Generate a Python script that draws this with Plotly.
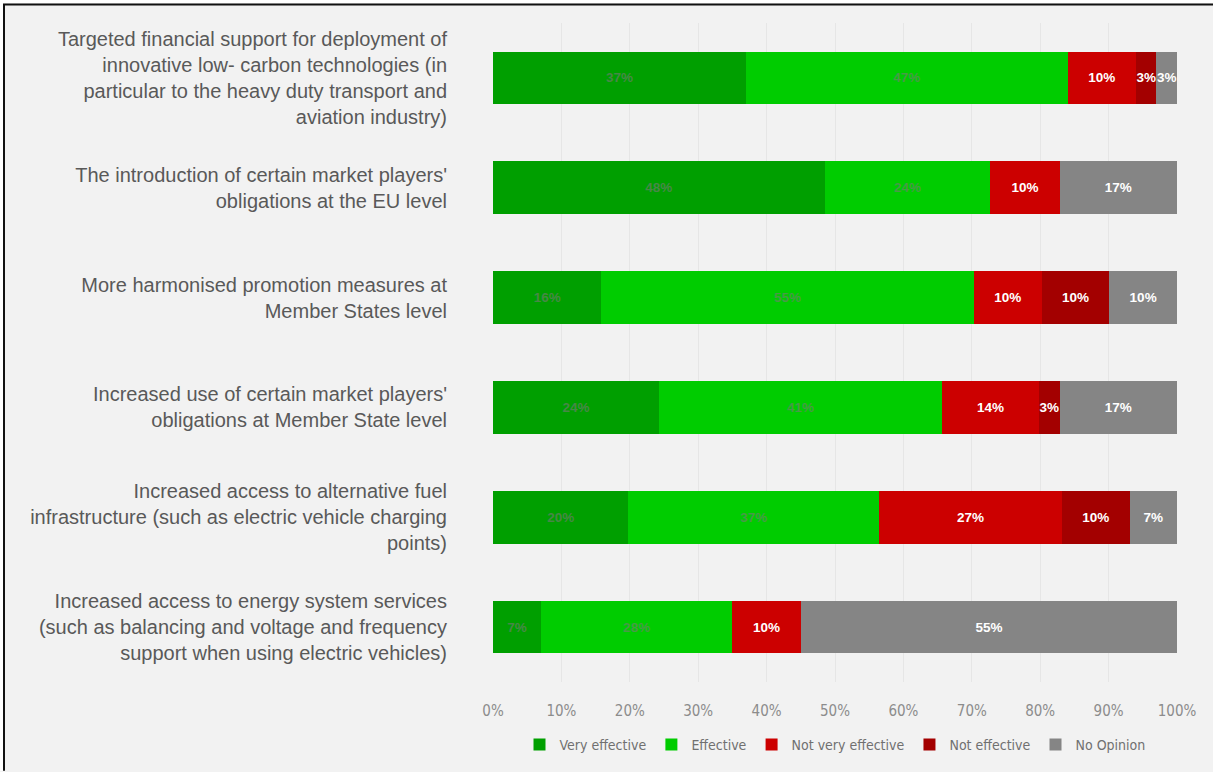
import plotly.graph_objects as go

# Survey measures (top to bottom) and the share of answers per rating
measures = [
    "Targeted financial support for deployment of<br>innovative low- carbon technologies (in<br>particular to the heavy duty transport and<br>aviation industry)",
    "The introduction of certain market players'<br>obligations at the EU level",
    "More harmonised promotion measures at<br>Member States level",
    "Increased use of certain market players'<br>obligations at Member State level",
    "Increased access to alternative fuel<br>infrastructure (such as electric vehicle charging<br>points)",
    "Increased access to energy system services<br>(such as balancing and voltage and frequency<br>support when using electric vehicles)",
]

very_effective = [37, 48, 16, 24, 20, 7]
effective = [47, 24, 55, 41, 37, 28]
not_very_effective = [10, 10, 10, 14, 27, 10]
not_effective = [3, 0, 10, 3, 10, 0]
no_opinion = [3, 17, 10, 17, 7, 55]

x_ticks = [0, 10, 20, 30, 40, 50, 60, 70, 80, 90, 100]
x_tick_labels = ["0%", "10%", "20%", "30%", "40%", "50%", "60%", "70%", "80%", "90%", "100%"]

series = [
    ("Very effective", very_effective, "#009f00", "rgba(120,120,120,0.6)"),
    ("Effective", effective, "#00cc00", "rgba(120,120,120,0.6)"),
    ("Not very effective", not_very_effective, "#cc0000", "#ffffff"),
    ("Not effective", not_effective, "#a30000", "#ffffff"),
    ("No Opinion", no_opinion, "#858585", "#ffffff"),
]

fig = go.Figure()
for name, values, color, text_color in series:
    fig.add_trace(go.Bar(
        name=name,
        y=measures,
        x=values,
        orientation="h",
        marker=dict(color=color, line=dict(width=0)),
        text=[f"{v}%" if v else "" for v in values],
        texttemplate="%{text}",
        textposition="inside",
        insidetextanchor="middle",
        constraintext="none",
        textangle=0,
        textfont=dict(family="Liberation Sans, Arial", size=13.5, color=text_color, weight="bold"),
        hoverinfo="skip",
    ))

# Page geometry (pixels) for the framing lines
W, H = 1213, 772
L, R, T, B = 493, 36, 23, 89
pw, ph = W - L - R, H - T - B


def px_x(px):
    return (px - L) / pw


def px_y(py):
    return (H - B - py) / ph


shapes = [
    # white strip outside the frame
    dict(type="rect", xref="paper", yref="paper", x0=px_x(0), x1=px_x(W), y0=px_y(0), y1=px_y(3),
         fillcolor="#ffffff", line=dict(width=0), layer="below"),
    dict(type="rect", xref="paper", yref="paper", x0=px_x(0), x1=px_x(3), y0=px_y(H), y1=px_y(0),
         fillcolor="#ffffff", line=dict(width=0), layer="below"),
    # frame lines
    dict(type="line", xref="paper", yref="paper", x0=px_x(3), x1=px_x(W), y0=px_y(4.5), y1=px_y(4.5),
         line=dict(color="#111111", width=2)),
    dict(type="line", xref="paper", yref="paper", x0=px_x(4), x1=px_x(4), y0=px_y(4), y1=px_y(H),
         line=dict(color="#111111", width=2)),
]

fig.update_layout(
    width=W,
    height=H,
    barmode="stack",
    barnorm="percent",
    bargap=0.52,
    paper_bgcolor="#f2f2f2",
    plot_bgcolor="#f2f2f2",
    margin=dict(l=L, r=R, t=T, b=B, pad=0),
    shapes=shapes,
    legend=dict(
        orientation="h",
        x=0.5,
        xanchor="center",
        y=px_y(745),
        yanchor="middle",
        font=dict(family="DejaVu Sans Condensed, Liberation Sans, Arial", size=14, color="#707070"),
        itemwidth=30,
        traceorder="normal",
        bgcolor="rgba(0,0,0,0)",
    ),
    xaxis=dict(
        range=[0, 100.001],
        tickvals=x_ticks,
        ticktext=x_tick_labels,
        showgrid=True,
        gridcolor="#e6e6e6",
        gridwidth=1,
        zeroline=False,
        showline=False,
        ticks="",
        ticklabelstandoff=18,
        tickfont=dict(family="DejaVu Sans Condensed, Liberation Sans, Arial", size=15, color="#8c8c8c"),
        fixedrange=True,
    ),
    yaxis=dict(
        autorange="reversed",
        showgrid=False,
        zeroline=False,
        showline=False,
        ticks="",
        ticklabelstandoff=45,
        tickfont=dict(family="Liberation Sans, Arial", size=20, color="#595959"),
        fixedrange=True,
    ),
    showlegend=True,
)

fig.write_html("out.html")
